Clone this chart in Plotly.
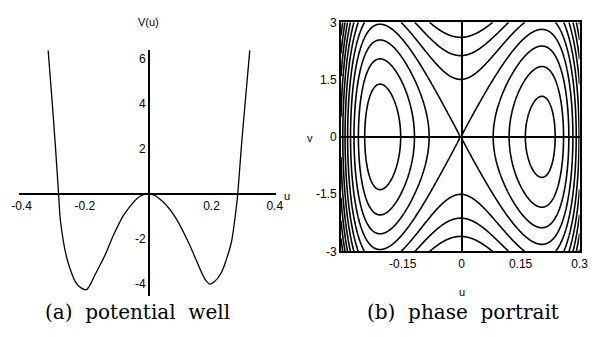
import numpy as np
import plotly.graph_objects as go

W, H = 609, 337

# ---- data ----
# (a) potential well: sampled points of V(u)
u_pts = [-0.316, -0.303, -0.292, -0.283, -0.277, -0.256, -0.23, -0.212, -0.195, -0.182,
         -0.169, -0.138, -0.108, -0.077, -0.036, -0.015, 0.0, 0.015, 0.046, 0.087,
         0.129, 0.169, 0.183, 0.195, 0.209, 0.231, 0.262, 0.277, 0.283, 0.295, 0.308,
         0.321]
V_pts = [6.38, 4.04, 1.91, 0.0, -1.2, -2.9, -3.9, -4.17, -4.25, -4.0,
         -3.62, -2.77, -1.78, -0.93, -0.21, -0.03, 0.0, -0.03, -0.34, -1.06,
         -2.2, -3.5, -3.86, -4.0, -3.9, -3.5, -2.2, -0.77, 0.0, 2.2, 4.3,
         6.38]

a_xticks = [-0.4, -0.2, 0.2, 0.4]
a_xticklabels = ["-0.4", "-0.2", "0.2", "0.4"]
a_yticks = [-4, -2, 2, 4, 6]
a_yticklabels = ["-4", "-2", "2", "4", "6"]

# (b) phase portrait: energy levels of the drawn orbits (E = v^2/2 + V(u))
energy_levels_start = -3.4
energy_levels_step = 3.4 / 3
energy_levels_end = 12.0

b_xticks = [-0.15, 0, 0.15, 0.3]
b_xticklabels = ["-0.15", "0", "0.15", "0.3"]
b_yticks = [-3, -1.5, 0, 1.5, 3]
b_yticklabels = ["-3", "-1.5", "0", "1.5", "3"]


def px(x):
    return x / W


def py(y):
    return 1 - y / H


fig = go.Figure()

# panel (a)
fig.add_trace(go.Scatter(x=u_pts, y=V_pts, mode="lines",
                         line=dict(color="black", width=1.3, shape="spline", smoothing=0.7),
                         xaxis="x", yaxis="y", hoverinfo="skip", showlegend=False))

# panel (b): energy contours built from a smooth fit of the potential above
coef = np.polyfit(u_pts, V_pts, 6)
ug = np.linspace(-0.307, 0.3, 501)
vg = np.linspace(-3, 3, 401)
UU, VV = np.meshgrid(ug, vg)
EE = 0.5 * VV ** 2 + np.polyval(coef, UU) - np.polyval(coef, 0.0)
fig.add_trace(go.Contour(x=ug, y=vg, z=EE, xaxis="x2", yaxis="y2",
                         contours=dict(coloring="lines", start=energy_levels_start,
                                       end=energy_levels_end, size=energy_levels_step),
                         line=dict(color="black", width=1.6, smoothing=1),
                         colorscale=[[0, "black"], [1, "black"]],
                         showscale=False, hoverinfo="skip"))

tickfont = dict(family="Liberation Sans, Arial, sans-serif", size=12, color="black")

fig.update_layout(
    width=W, height=H, margin=dict(l=0, r=0, t=0, b=0),
    paper_bgcolor="white", plot_bgcolor="white", showlegend=False,
    xaxis=dict(domain=[px(12), px(276)], range=[-0.409, 0.403], anchor="free",
               position=py(195), showgrid=False, zeroline=False, showline=True,
               linecolor="black", linewidth=2, tickvals=a_xticks,
               ticktext=a_xticklabels, ticks="outside", ticklen=1, tickcolor="white",
               tickfont=tickfont, fixedrange=True),
    yaxis=dict(domain=[py(302), py(45)], range=[-4.55, 6.38], anchor="free",
               position=px(145), showgrid=False, zeroline=False, showline=True,
               linecolor="black", linewidth=1.6, tickvals=a_yticks,
               ticktext=a_yticklabels, ticks="", tickfont=tickfont, fixedrange=True),
    xaxis2=dict(domain=[px(343), px(588)], range=[-0.307, 0.3], anchor="y2",
                showgrid=False, zeroline=True, zerolinecolor="black", zerolinewidth=2,
                showline=True, mirror=True, linecolor="black", linewidth=2,
                tickvals=b_xticks, ticktext=b_xticklabels, ticks="",
                tickfont=tickfont, fixedrange=True),
    yaxis2=dict(domain=[py(255), py(16)], range=[-3, 3], anchor="x2",
                showgrid=False, zeroline=True, zerolinecolor="black", zerolinewidth=2,
                showline=True, mirror=True, linecolor="black", linewidth=2,
                tickvals=b_yticks, ticktext=b_yticklabels, ticks="",
                tickfont=tickfont, fixedrange=True),
)

lab = dict(family="Liberation Sans, Arial, sans-serif", size=11, color="black")
cap = dict(family="DejaVu Serif, serif", size=20, color="black")
nb = "\u00a0"
annos = [
    dict(text="V(u)", x=px(145), y=py(16), font=lab),
    dict(text="u", x=px(288), y=py(197), font=lab),
    dict(text="(a)" + nb + " potential" + nb + " well", x=px(134), y=py(318), font=cap),
    dict(text="v", x=px(311), y=py(137), font=lab),
    dict(text="u", x=px(467), y=py(297), font=lab),
    dict(text="(b)" + nb + " phase" + nb + " portrait", x=px(468), y=py(318), font=cap),
]
for a in annos:
    fig.add_annotation(xref="paper", yref="paper", showarrow=False,
                       xanchor="center", yanchor="middle", **a)

fig.write_html("out.html", config={"displayModeBar": False, "staticPlot": True},
               post_script="document.body.style.margin='0';document.body.style.padding='0';")
